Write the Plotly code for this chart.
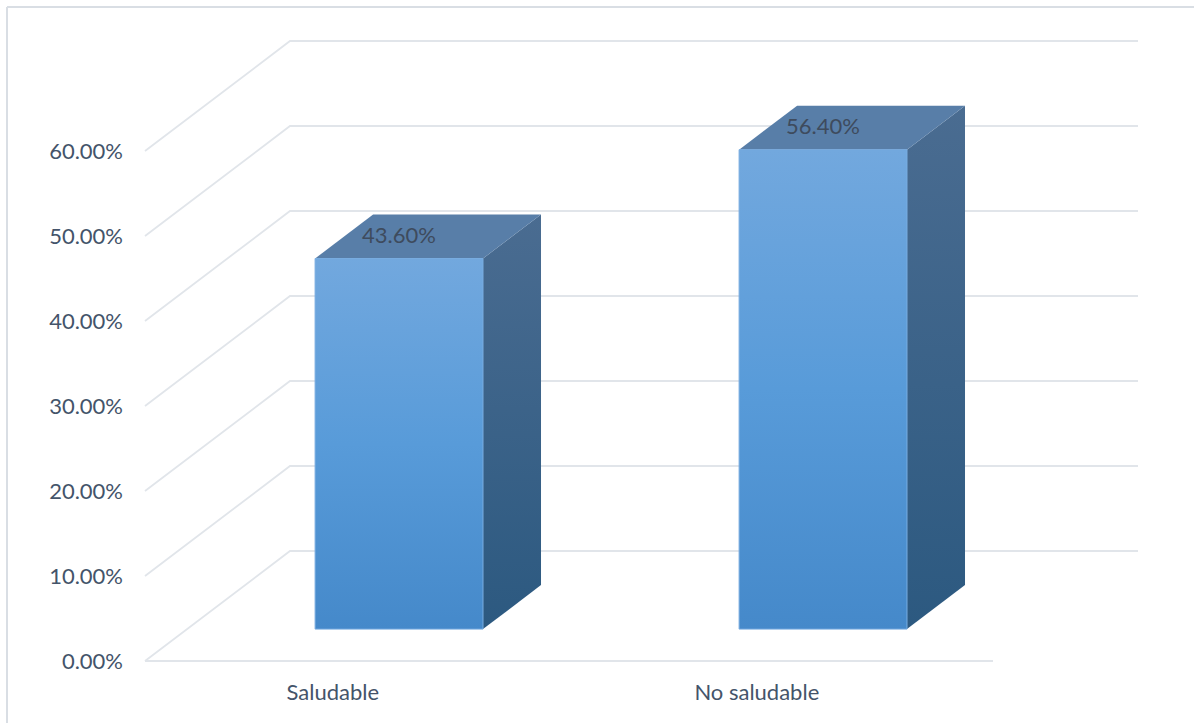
import plotly.graph_objects as go

# --- data -------------------------------------------------------------
categories = ["Saludable", "No saludable"]
values = [43.60, 56.40]                      # percent
y_ticks = [0, 10, 20, 30, 40, 50, 60]

# --- oblique projection of the 3-D box ---------------------------------
DEPTH_X = 0.342      # x-units the back wall sits to the right of the front edge
DEPTH_Y = 12.94      # y-units the back wall sits above the front edge
BAR_D0, BAR_D1 = 0.29, 0.69   # bar front / back as a fraction of the depth
BAR_HALF = 0.198     # half bar width in category units
LABEL_SHIFT = -0.057

GRID = "#e1e5ea"
TXT = "#44546a"
FONT = "Lato"
FS = 22

W, H = 1194, 723
ML, MB = 130, 51
PX_X = 424.0         # pixels per category unit
PX_Y = 8.5           # pixels per percent
X0_PX, Y0_PX = 145, 661   # pixel position of the front-left floor corner


def proj(x, y, d):
    return x + d * DEPTH_X, y + d * DEPTH_Y


fig = go.Figure()

# wall / floor gridlines
n = len(categories)
for v in y_ticks:
    bx, by = proj(0, v, 1)
    ex, ey = proj(n, v, 1)
    fig.add_trace(go.Scatter(
        x=[0, bx, ex], y=[v, by, ey], mode="lines",
        line=dict(color=GRID, width=1.8), hoverinfo="skip", showlegend=False))
# front edge of the floor
fig.add_trace(go.Scatter(
    x=[0, n], y=[0, 0], mode="lines",
    line=dict(color=GRID, width=1.8), hoverinfo="skip", showlegend=False))

# bars
for i, (cat, v) in enumerate(zip(categories, values)):
    xl, xr = i + 0.5 - BAR_HALF, i + 0.5 + BAR_HALF
    fl = proj(xl, 0, BAR_D0)
    fr = proj(xr, 0, BAR_D0)
    flt = proj(xl, v, BAR_D0)
    frt = proj(xr, v, BAR_D0)
    blt = proj(xl, v, BAR_D1)
    brt = proj(xr, v, BAR_D1)
    brb = proj(xr, 0, BAR_D1)

    # right side
    fig.add_trace(go.Scatter(
        x=[fr[0], brb[0], brt[0], frt[0], fr[0]],
        y=[fr[1], brb[1], brt[1], frt[1], fr[1]],
        mode="lines", fill="toself", line=dict(width=0),
        fillgradient=dict(type="vertical",
                          colorscale=[[0, "#2c5980"], [1, "#4a6c91"]]),
        hoverinfo="skip", showlegend=False))
    # top
    fig.add_trace(go.Scatter(
        x=[flt[0], frt[0], brt[0], blt[0], flt[0]],
        y=[flt[1], frt[1], brt[1], blt[1], flt[1]],
        mode="lines", fill="toself", line=dict(width=0),
        fillcolor="#587ea8", hoverinfo="skip", showlegend=False))
    # front
    fig.add_trace(go.Scatter(
        x=[fl[0], fr[0], frt[0], flt[0], fl[0]],
        y=[fl[1], fr[1], frt[1], flt[1], fl[1]],
        mode="lines", fill="toself", line=dict(width=1, color="#78ace0"),
        fillgradient=dict(type="vertical",
                          colorscale=[[0, "#4589ca"], [0.5, "#589bd9"],
                                      [1, "#72a8de"]]),
        name=cat, showlegend=False))

    fig.add_annotation(
        x=(flt[0] + frt[0]) / 2, y=flt[1], yshift=24,
        text=f"{v:.2f}%", showarrow=False,
        font=dict(family=FONT, size=FS, color="#3e4b5d"))

# axis ranges so that one category = PX_X px and 1 % = PX_Y px
plot_w = W - ML
plot_h = H - MB
x_min = -(X0_PX - ML) / PX_X
x_max = x_min + plot_w / PX_X
y_min = -(plot_h - Y0_PX) / PX_Y
y_max = y_min + plot_h / PX_Y

fig.update_xaxes(
    range=[x_min, x_max], showgrid=False, zeroline=False, showline=False,
    tickvals=[i + 0.5 + LABEL_SHIFT for i in range(n)], ticktext=categories,
    ticks="", tickfont=dict(family=FONT, size=FS, color=TXT),
    ticklabelstandoff=5, fixedrange=True)
fig.update_yaxes(
    range=[y_min, y_max], showgrid=False, zeroline=False, showline=False,
    tickvals=y_ticks, ticktext=[f"{t:.2f}%" for t in y_ticks],
    ticks="", tickfont=dict(family=FONT, size=FS, color=TXT),
    ticklabelstandoff=6, fixedrange=True)

# chart-area border (left and top edges)
bx0 = (7 - ML) / plot_w
by1 = (H - 7 - MB) / plot_h
fig.add_shape(type="line", xref="paper", yref="paper",
              x0=bx0, x1=bx0, y0=-MB / plot_h, y1=by1,
              line=dict(color="#d9dee4", width=2))
fig.add_shape(type="line", xref="paper", yref="paper",
              x0=bx0, x1=1.0, y0=by1, y1=by1,
              line=dict(color="#d9dee4", width=2))

fig.update_layout(
    width=W, height=H,
    margin=dict(l=ML, r=0, t=0, b=MB),
    paper_bgcolor="white", plot_bgcolor="white",
    showlegend=False, hovermode=False,
)

fig.write_html("out.html")
